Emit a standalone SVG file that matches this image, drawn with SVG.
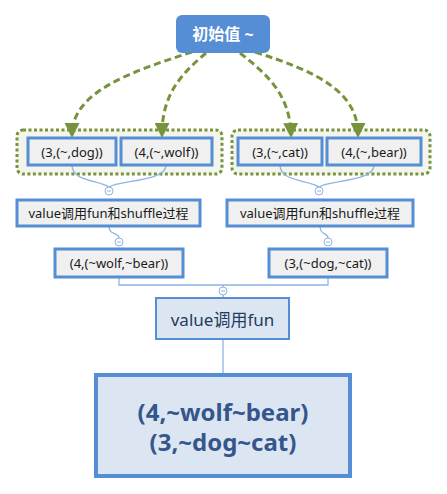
<svg xmlns="http://www.w3.org/2000/svg" width="447" height="494" viewBox="0 0 447 494">
<style>
text{font-family:"Noto Sans","Noto Sans CJK SC",sans-serif;text-anchor:middle;dominant-baseline:central}
.grp{fill:#F3F5EC;stroke:#77933C;stroke-width:3;stroke-dasharray:3 2.5}
.leaf rect{fill:#F0F0F0;stroke:#558ED5;stroke-width:3}
.leaf text{font-size:13px;fill:#1a1a1a}
.mid rect{fill:#F0F0F0;stroke:#558ED5;stroke-width:3}
.mid text{font-size:13px;fill:#1a1a1a}
.con{fill:none;stroke:#8EB4E3;stroke-width:1.3}
.arr{fill:none;stroke:#77933C;stroke-width:3;stroke-dasharray:7 4;marker-end:url(#ah)}
.knob circle{fill:#fff;stroke:#8EB4E3;stroke-width:1}
.knob line{stroke:#8EB4E3;stroke-width:1}
</style>
<defs>
<marker id="ah" viewBox="0 0 10 10" refX="8" refY="5" markerWidth="5" markerHeight="5" orient="auto" markerUnits="strokeWidth">
<path d="M0,0 L10,5 L0,10 z" fill="#77933C"/>
</marker>
</defs>
<rect width="447" height="494" fill="#fff"/>

<g id="group-left"><rect class="grp" x="17" y="130" width="205" height="44" rx="6"/></g>
<g id="group-right"><rect class="grp" x="232" y="130" width="198" height="44" rx="6"/></g>

<g id="connectors">
<path class="arr" d="M192,52 C130,72 72,92 72,135"/>
<path class="arr" d="M206,53 C180,75 162,95 162,135"/>
<path class="arr" d="M240,53 C268,75 290,95 291,135"/>
<path class="arr" d="M255,52 C318,72 358,92 358,135"/>
<path class="con" d="M72,165 C72,182 100,180 109,187"/>
<path class="con" d="M166,165 C166,182 118,180 109,187"/>
<path class="con" d="M280,165 C280,182 310,180 319,187"/>
<path class="con" d="M374,165 C374,182 328,180 319,187"/>
<path class="con" d="M109,226 C109,236 119,232 119,238"/>
<path class="con" d="M320,226 C320,236 328,232 328,238"/>
<path class="con" d="M119,277 V285 H328 V277"/>
<path class="con" d="M223,285 V298"/>
<path class="con" d="M223,339 V374"/>
</g>

<g class="knob"><circle cx="109" cy="191" r="4"/><line x1="107" y1="191" x2="111" y2="191"/></g>
<g class="knob"><circle cx="319" cy="191" r="4"/><line x1="317" y1="191" x2="321" y2="191"/></g>
<g class="knob"><circle cx="119" cy="242" r="4"/><line x1="117" y1="242" x2="121" y2="242"/></g>
<g class="knob"><circle cx="328" cy="242" r="4"/><line x1="326" y1="242" x2="330" y2="242"/></g>
<g class="knob"><circle cx="223" cy="291" r="4"/><line x1="221" y1="291" x2="225" y2="291"/></g>

<g id="root">
<rect x="176" y="15" width="94" height="38" rx="6" fill="#558ED5"/>
<text x="223" y="34" font-size="16" font-weight="bold" fill="#fff">初始值 ~</text>
</g>

<g id="n-3dog" class="leaf"><rect x="28" y="138" width="88" height="27"/><text x="72" y="151.5">(3,(~,dog))</text></g>
<g id="n-4wolf" class="leaf"><rect x="121" y="138" width="91" height="27"/><text x="166.5" y="151.5">(4,(~,wolf))</text></g>
<g id="n-3cat" class="leaf"><rect x="238" y="138" width="84" height="27"/><text x="280" y="151.5">(3,(~,cat))</text></g>
<g id="n-4bear" class="leaf"><rect x="327" y="138" width="94" height="27"/><text x="374" y="151.5">(4,(~,bear))</text></g>

<g id="n-shuffle-left" class="mid"><rect x="17" y="200" width="183" height="26"/><text x="108.5" y="213">value调用fun和shuffle过程</text></g>
<g id="n-shuffle-right" class="mid"><rect x="227" y="200" width="186" height="26"/><text x="320" y="213">value调用fun和shuffle过程</text></g>

<g id="n-wolfbear" class="mid"><rect x="55" y="249" width="128" height="28"/><text x="119" y="263">(4,(~wolf,~bear))</text></g>
<g id="n-dogcat" class="mid"><rect x="269" y="249" width="118" height="28"/><text x="328" y="263">(3,(~dog,~cat))</text></g>

<g id="n-valuefun">
<rect x="156" y="298" width="133" height="41" fill="#DCE6F2" stroke="#558ED5" stroke-width="2"/>
<text x="222.5" y="319" font-size="17" fill="#243A5E">value调用fun</text>
</g>

<g id="n-result">
<rect x="96" y="375" width="254" height="101" fill="#DCE6F2" stroke="#558ED5" stroke-width="4"/>
<text x="223" y="411" font-size="24" font-weight="bold" fill="#35568C">(4,~wolf~bear)</text>
<text x="223" y="441" font-size="24" font-weight="bold" fill="#35568C">(3,~dog~cat)</text>
</g>
</svg>
